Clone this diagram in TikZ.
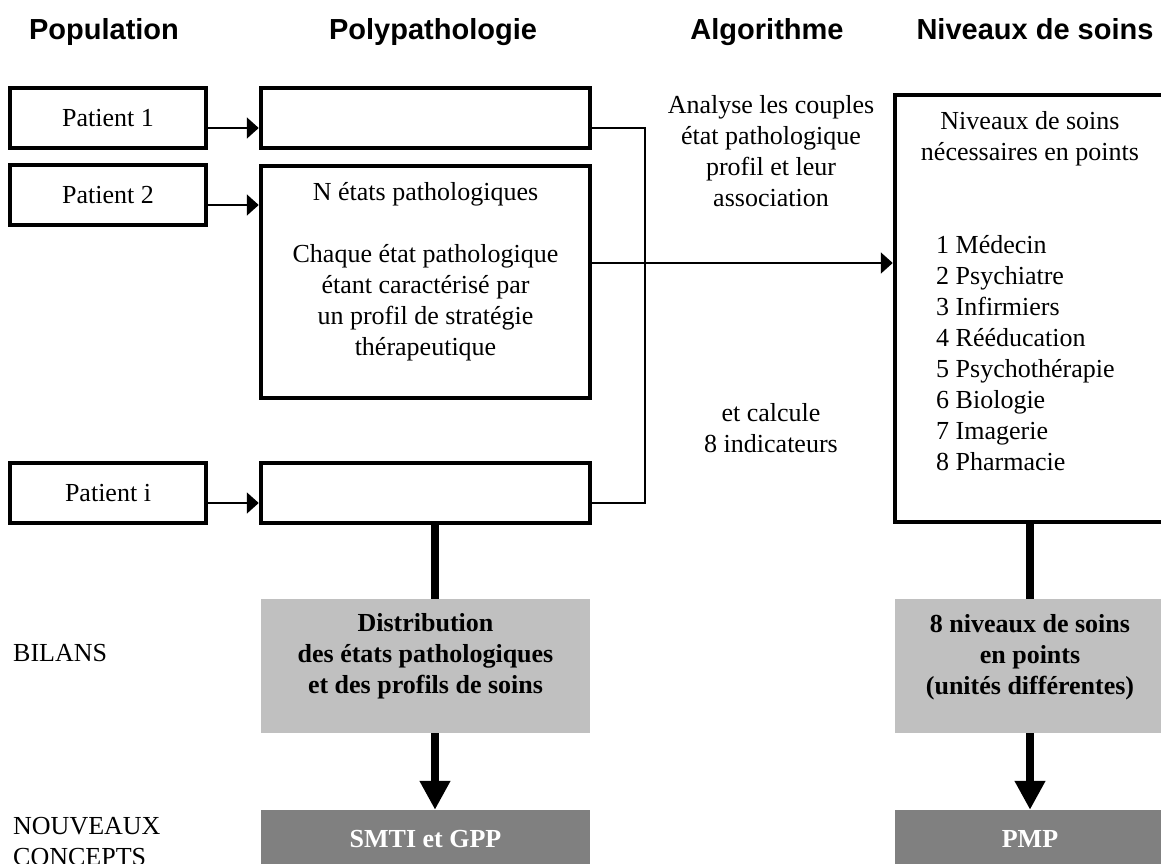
\documentclass[tikz,border=0pt]{standalone}
\usepackage{fontspec}
\setmainfont{Liberation Serif}
\newfontfamily\headfont{Liberation Sans}
\usetikzlibrary{arrows.meta, positioning}
\definecolor{bilangray}{HTML}{C0C0C0}
\definecolor{conceptgray}{HTML}{808080}

\begin{document}
\begin{tikzpicture}[x=1pt, y=-1pt,
    every node/.style={inner sep=0pt, font=\fontsize{26}{31}\selectfont},
    header/.style={anchor=base, font=\headfont\bfseries\fontsize{29}{34}\selectfont},
    box/.style={draw, line width=4.5pt},
    patient/.style={box, minimum width=196pt, minimum height=60pt},
    poly/.style={box, minimum width=329pt, minimum height=60pt},
    bilan/.style={fill=bilangray, minimum height=134pt},
    concept/.style={fill=conceptgray, text=white, minimum height=58pt,
      font=\bfseries\fontsize{26}{31}\selectfont},
    boldtext/.style={align=center, font=\bfseries\fontsize{26}{31}\selectfont},
    link/.style={line width=2pt},
    linkarrow/.style={line width=2pt, -{Triangle[width=21pt,length=12pt]}},
    heavy/.style={line width=7.5pt},
    heavyarrow/.style={line width=7.5pt, -{Triangle[width=29pt,length=29pt]}}]
  \useasboundingbox (0,0) rectangle (1161,863);
  \clip (0,0) rectangle (1161,863);

  \node[header] (hpop) at (104,39) {Population};
  \node[header] (hpoly) at (433,39) {Polypathologie};
  \node[header] (halgo) at (767,39) {Algorithme};
  \node[header] (hniv) at (1035,39) {Niveaux de soins};

  \node[patient] (pat1) at (108,118) {Patient 1};
  \node[patient] (pat2) at (108,195) {Patient 2};
  \node[patient] (pati) at (108,493) {Patient i};

  \node[poly] (poly1) at (425.5,118) {};
  \node[poly, minimum height=232pt] (poly2) at (425.5,282) {};
  \node[align=center] (polytext) at (425.5,272)
    {N états pathologiques\\[31pt]Chaque état pathologique\\étant caractérisé par\\un profil de stratégie\\thérapeutique};
  \node[poly] (polyi) at (425.5,493) {};

  \node[align=center] (algo1) at (771,151) {Analyse les couples\\état pathologique\\profil et leur\\association};
  \node[align=center] (algo2) at (771,428) {et calcule\\8 indicateurs};

  \node[box, minimum width=270pt, minimum height=427pt] (niv) at (1030,308.5) {};
  \node[align=center] (nivtitle) at (1030,139) {Niveaux de soins\\nécessaires en points};
  \node[align=left, anchor=west] (nivlist) at (936,353)
    {1 Médecin\\2 Psychiatre\\3 Infirmiers\\4 Rééducation\\5 Psychothérapie\\6 Biologie\\7 Imagerie\\8 Pharmacie};

  \node[bilan, minimum width=329pt] (bil1) at (425.5,666) {};
  \node[boldtext] (bil1text) at (425.5,656) {Distribution\\des états pathologiques\\et des profils de soins};
  \node[bilan, minimum width=270pt] (bil2) at (1030,666) {};
  \node[boldtext] (bil2text) at (1030,657) {8 niveaux de soins\\en points\\(unités différentes)};

  \node[concept, minimum width=329pt] (smti) at (425.5,839) {SMTI et GPP};
  \node[concept, minimum width=270pt] (pmp) at (1030,839) {PMP};

  \node[anchor=west] (bilans) at (13,653) {BILANS};
  \node[anchor=west, align=left] (nouveaux) at (13,842) {NOUVEAUX\\CONCEPTS};

  \draw[linkarrow] ([yshift=-10pt]pat1.east) -- ([yshift=-10pt]pat1.east -| poly1.west);
  \draw[linkarrow] ([yshift=-10pt]pat2.east) -- ([yshift=-10pt]pat2.east -| poly2.west);
  \draw[linkarrow] ([yshift=-10pt]pati.east) -- ([yshift=-10pt]pati.east -| polyi.west);

  \coordinate (join) at (645,0);
  \coordinate (out1) at ([yshift=-10pt]poly1.east);
  \coordinate (outi) at ([yshift=-10pt]polyi.east);
  \draw[link] (out1) -| (join |- outi) -- (outi);

  \coordinate (mid) at ([yshift=19pt]poly2.east);
  \draw[linkarrow] (mid) -- (mid -| niv.west);

  \coordinate (cola) at (435,0);
  \draw[heavy] (polyi.south -| cola) -- (bil1.north -| cola);
  \draw[heavyarrow] (bil1.south -| cola) -- (smti.north -| cola);
  \draw[heavy] (niv.south) -- (bil2.north);
  \draw[heavyarrow] (bil2.south) -- (pmp.north);
\end{tikzpicture}
\end{document}
